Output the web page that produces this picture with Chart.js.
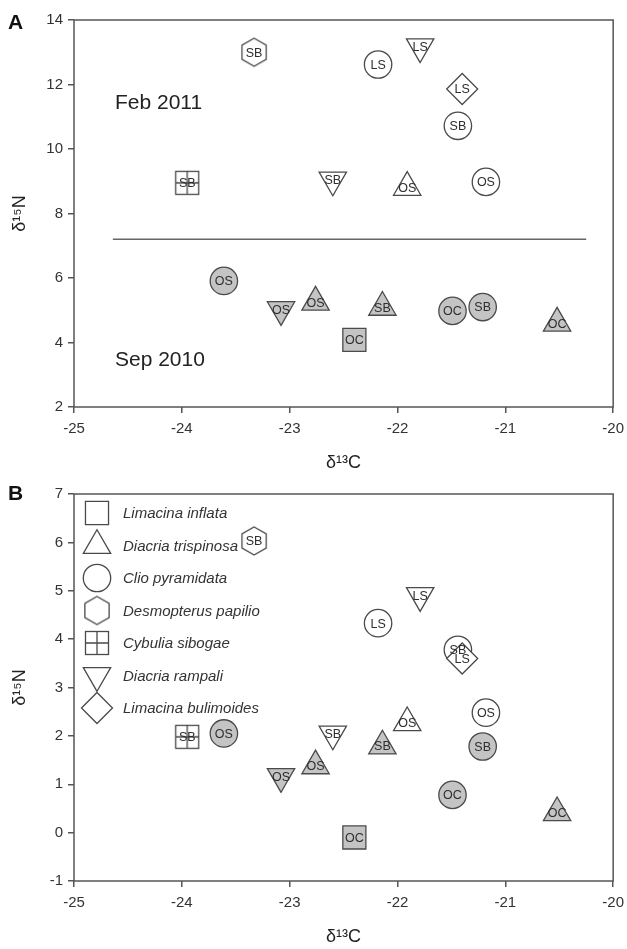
<!DOCTYPE html>
<html><head><meta charset="utf-8">
<script src="https://cdn.jsdelivr.net/npm/chart.js@4/dist/chart.umd.min.js"></script>
<style>
html,body{margin:0;background:#fff;overflow:hidden}
body{width:627px;height:949px;position:relative;font-family:"Liberation Sans",Arial,sans-serif}
.wrap{position:absolute;left:0;width:631px;height:474px}
#wa{top:0}#wb{top:474px}
.tag{position:absolute;left:8px;font-weight:bold;font-size:21px;color:#111;line-height:1}
</style></head><body>
<div class="wrap" id="wa"><canvas id="ca" width="631" height="474"></canvas></div>
<div class="wrap" id="wb"><canvas id="cb" width="631" height="474"></canvas></div>
<div class="tag" style="top:11px">A</div>
<div class="tag" style="top:482px">B</div>
<script>
// ---------- data ----------
const speciesNames = ['Limacina inflata','Diacria trispinosa','Clio pyramidata','Desmopterus papilio','Cybulia sibogae','Diacria rampali','Limacina bulimoides'];
const pointSpecies = [3,2,5,2,6,4,5,1,2, 2,5,1,1,0,2,2,1];
const pointSeason  = ['Feb 2011','Feb 2011','Feb 2011','Feb 2011','Feb 2011','Feb 2011','Feb 2011','Feb 2011','Feb 2011',
                      'Sep 2010','Sep 2010','Sep 2010','Sep 2010','Sep 2010','Sep 2010','Sep 2010','Sep 2010'];
const pointRegion  = ['SB','LS','LS','SB','LS','SB','SB','OS','OS', 'OS','OS','OS','SB','OC','OC','SB','OC'];
const d13C   = [-23.33,-22.18,-21.79,-21.44,-21.40,-23.95,-22.60,-21.91,-21.18, -23.61,-23.08,-22.76,-22.14,-22.40,-21.49,-21.21,-20.52];
const d15N_A = [13.0,12.62,13.17,10.72,11.86,8.95,9.04,8.81,8.98, 5.91,5.02,5.25,5.09,4.08,4.98,5.10,4.60];
const d15N_B = [6.03,4.33,4.90,3.78,3.60,1.98,2.04,2.27,2.48, 2.05,1.16,1.38,1.79,-0.10,0.78,1.78,0.41];
const separatorX = [-24.64,-20.25];
const separatorY = [7.2,7.2];
const xTicks  = [-25,-24,-23,-22,-21,-20];
const yTicksA = [2,4,6,8,10,12,14];
const yTicksB = [-1,0,1,2,3,4,5,6,7];

// ---------- styles ----------
const STROKE = '#4a4a4a';
const FILL = {'Feb 2011':'#ffffff','Sep 2010':'#c4c4c4'};
Chart.defaults.font.family = '"Liberation Sans", Arial, sans-serif';
Chart.defaults.color = '#333';

const cache = {};
function hexCanvas(fill){
  const k='hex'+fill; if(cache[k]) return cache[k];
  const c=document.createElement('canvas'); c.width=30; c.height=32;
  const g=c.getContext('2d'); const R=14, cx=15, cy=16;
  g.beginPath();
  for(let i=0;i<6;i++){const a=-Math.PI/2+i*Math.PI/3; const px=cx+R*Math.cos(a), py=cy+R*Math.sin(a); i?g.lineTo(px,py):g.moveTo(px,py);}
  g.closePath(); g.fillStyle=fill; g.fill(); g.strokeStyle=STROKE; g.lineWidth=1.3; g.stroke();
  return cache[k]=c;
}
function crossCanvas(fill){
  const k='cross'+fill; if(cache[k]) return cache[k];
  const c=document.createElement('canvas'); c.width=26; c.height=26;
  const g=c.getContext('2d');
  g.fillStyle=fill; g.fillRect(1.5,1.5,23,23);
  g.strokeStyle=STROKE; g.lineWidth=1.3; g.strokeRect(1.5,1.5,23,23);
  g.beginPath(); g.moveTo(13,1.5); g.lineTo(13,24.5); g.moveTo(1.5,13); g.lineTo(24.5,13); g.stroke();
  return cache[k]=c;
}
function markerFor(sp, fill){
  switch(sp){
    case 0: return {pointStyle:'rect', radius:16.3, rotation:0};
    case 1: return {pointStyle:'triangle', radius:15.8, rotation:0};
    case 2: return {pointStyle:'circle', radius:13.7, rotation:0};
    case 3: return {pointStyle:hexCanvas(fill), radius:13, rotation:0};
    case 4: return {pointStyle:crossCanvas(fill), radius:12, rotation:0};
    case 5: return {pointStyle:'triangle', radius:15.8, rotation:180};
    case 6: return {pointStyle:'rectRot', radius:15.5, rotation:0};
  }
}

function pointsDataset(yArr){
  return {
    type:'scatter',
    data: d13C.map((x,i)=>({x:x, y:yArr[i]})),
    pointStyle: c => markerFor(pointSpecies[c.dataIndex], FILL[pointSeason[c.dataIndex]]).pointStyle,
    radius: c => markerFor(pointSpecies[c.dataIndex], FILL[pointSeason[c.dataIndex]]).radius,
    hoverRadius: c => markerFor(pointSpecies[c.dataIndex], FILL[pointSeason[c.dataIndex]]).radius,
    rotation: c => markerFor(pointSpecies[c.dataIndex], FILL[pointSeason[c.dataIndex]]).rotation,
    backgroundColor: c => FILL[pointSeason[c.dataIndex]],
    borderColor: STROKE,
    borderWidth: 1.3,
    isPoints: true
  };
}

const regionLabels = {
  id:'regionLabels',
  afterDatasetsDraw(chart){
    const ctx=chart.ctx;
    chart.data.datasets.forEach((ds,di)=>{
      if(!ds.isPoints) return;
      const meta=chart.getDatasetMeta(di);
      meta.data.forEach((el,i)=>{
        ctx.save();
        ctx.font='12.5px "Liberation Sans", Arial, sans-serif';
        ctx.fillStyle='#2e2e2e'; ctx.textAlign='center'; ctx.textBaseline='middle';
        ctx.fillText(pointRegion[i], el.x, el.y+1);
        ctx.restore();
      });
    });
  }
};
const frame = {
  id:'frame',
  afterDraw(chart){
    const a=chart.chartArea, ctx=chart.ctx;
    ctx.save(); ctx.strokeStyle='#555'; ctx.lineWidth=1.5;
    ctx.strokeRect(a.left, a.top, a.right-a.left, a.bottom-a.top);
    ctx.restore();
  }
};
const seasonText = {
  id:'seasonText',
  afterDraw(chart){
    const ctx=chart.ctx, sx=chart.scales.x, sy=chart.scales.y;
    ctx.save(); ctx.font='21px "Liberation Sans", Arial, sans-serif'; ctx.fillStyle='#222';
    ctx.textAlign='left'; ctx.textBaseline='middle';
    ctx.fillText('Feb 2011', sx.getPixelForValue(-24.62), sy.getPixelForValue(11.43));
    ctx.fillText('Sep 2010', sx.getPixelForValue(-24.62), sy.getPixelForValue(3.46));
    ctx.restore();
  }
};
const speciesLegend = {
  id:'speciesLegend',
  afterDraw(chart){
    const ctx=chart.ctx, a=chart.chartArea;
    speciesNames.forEach((name,k)=>{
      const x=a.left+23, y=a.top+19+k*32.5;
      const m=markerFor(k,'#ffffff');
      ctx.save();
      ctx.fillStyle='#ffffff'; ctx.strokeStyle=STROKE; ctx.lineWidth=1.3;
      Chart.helpers.drawPoint(ctx,{pointStyle:m.pointStyle, radius:m.radius, rotation:m.rotation, borderWidth:1.3}, x, y);
      ctx.font='italic 15px "Liberation Sans", Arial, sans-serif'; ctx.fillStyle='#333';
      ctx.textAlign='left'; ctx.textBaseline='middle';
      ctx.fillText(name, a.left+49, y+1);
      ctx.restore();
    });
  }
};

function scales(ymin,ymax,yTicks){
  const tickGrid = {display:true, drawOnChartArea:false, drawTicks:true, tickLength:6, color:'#555', lineWidth:1.5};
  return {
    x:{type:'linear', min:-25, max:-20,
       afterBuildTicks: s => { s.ticks = xTicks.map(v=>({value:v})); },
       ticks:{font:{size:15}, color:'#333', padding:7},
       grid:tickGrid, border:{display:false},
       title:{display:true, text:'δ¹³C', font:{size:18}, color:'#222', padding:{top:0,bottom:0}},
       afterFit: s => { s.height = 67; }},
    y:{type:'linear', min:ymin, max:ymax,
       afterBuildTicks: s => { s.ticks = yTicks.map(v=>({value:v})); },
       ticks:{font:{size:15}, color:'#333', padding:5},
       grid:tickGrid, border:{display:false},
       title:{display:true, text:'δ¹⁵N', font:{size:18}, color:'#222', padding:{top:9,bottom:0}},
       afterFit: s => { s.width = 74; }}
  };
}
const common = {
  responsive:false, animation:false, devicePixelRatio:1,
  layout:{padding:{top:20,right:14,left:0,bottom:0}},
  plugins:{legend:{display:false}, tooltip:{enabled:false}}
};

new Chart(document.getElementById('ca'), {
  type:'scatter',
  data:{datasets:[
    {type:'line', data:separatorX.map((x,i)=>({x:x,y:separatorY[i]})), borderColor:'#666', borderWidth:1.5, pointRadius:0, fill:false},
    pointsDataset(d15N_A)
  ]},
  options:Object.assign({}, common, {scales:scales(2,14,yTicksA)}),
  plugins:[regionLabels, frame, seasonText]
});
new Chart(document.getElementById('cb'), {
  type:'scatter',
  data:{datasets:[pointsDataset(d15N_B)]},
  options:Object.assign({}, common, {scales:scales(-1,7,yTicksB)}),
  plugins:[regionLabels, frame, speciesLegend]
});
</script>
</body></html>
